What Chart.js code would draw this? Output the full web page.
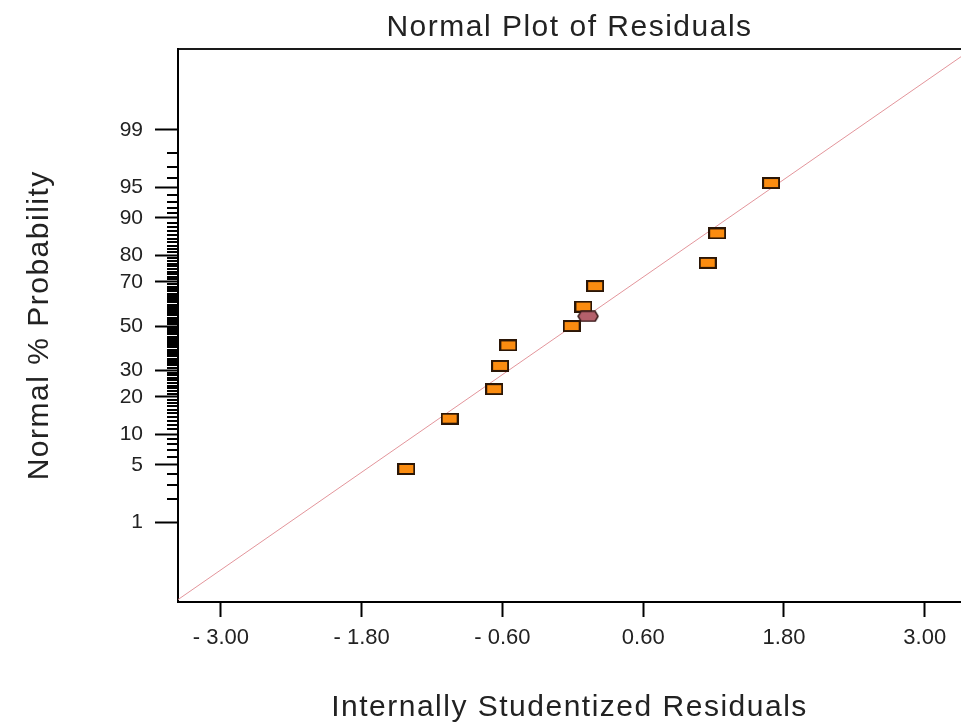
<!DOCTYPE html>
<html>
<head>
<meta charset="utf-8">
<title>Normal Plot of Residuals</title>
<script src="https://cdn.jsdelivr.net/npm/chart.js@4.4.1/dist/chart.umd.min.js"></script>
<style>
  html, body { margin: 0; padding: 0; background: #fff; }
  #wrap { width: 961px; height: 726px; }
</style>
</head>
<body>
<div id="wrap"><canvas id="residualChart" width="961" height="726"></canvas></div>
<script>
// --- RESIDUALS (x = studentized residual, prob = normal % probability) ---
const residualX = [-1.42, -1.05, -0.67, -0.62, -0.55, -0.01, 0.09, 0.19, 1.15, 1.23, 1.69];
const residualProb = [4.5, 13.6, 22.7, 31.8, 40.9, 50.0, 59.1, 68.2, 77.3, 86.4, 95.5];

// highlighted run
const selectedX = [0.13];
const selectedProb = [54.6];

// reference line end points
const fitLineX = [-3.37, 3.31];
const fitLineProb = [0.058, 99.93];

// axis ticks
const xTickValues = [-3.0, -1.8, -0.6, 0.6, 1.8, 3.0];
const xTickLabels = ['- 3.00', '- 1.80', '- 0.60', '0.60', '1.80', '3.00'];
const probTickValues = [1, 5, 10, 20, 30, 50, 70, 80, 90, 95, 99];
const probTickLabels = ['1', '5', '10', '20', '30', '50', '70', '80', '90', '95', '99'];

const FONT = '"Liberation Sans", Arial, sans-serif';

// inverse normal CDF (Acklam) -- maps a probability onto the probit axis
function probit(p) {
  const a = [-3.969683028665376e+01, 2.209460984245205e+02, -2.759285104469687e+02, 1.383577518672690e+02, -3.066479806614716e+01, 2.506628277459239e+00];
  const b = [-5.447609879822406e+01, 1.615858368580409e+02, -1.556989798598866e+02, 6.680131188771972e+01, -1.328068155288572e+01];
  const c = [-7.784894002430293e-03, -3.223964580411365e-01, -2.400758277161838e+00, -2.549732539343734e+00, 4.374664141464968e+00, 2.938163982698783e+00];
  const d = [7.784695709041462e-03, 3.224671290700398e-01, 2.445134137142996e+00, 3.754408661907416e+00];
  const pLow = 0.02425;
  let q, r;
  if (p < pLow) {
    q = Math.sqrt(-2 * Math.log(p));
    return (((((c[0] * q + c[1]) * q + c[2]) * q + c[3]) * q + c[4]) * q + c[5]) /
      ((((d[0] * q + d[1]) * q + d[2]) * q + d[3]) * q + 1);
  }
  if (p <= 1 - pLow) {
    q = p - 0.5;
    r = q * q;
    return (((((a[0] * r + a[1]) * r + a[2]) * r + a[3]) * r + a[4]) * r + a[5]) * q /
      (((((b[0] * r + b[1]) * r + b[2]) * r + b[3]) * r + b[4]) * r + 1);
  }
  q = Math.sqrt(-2 * Math.log(1 - p));
  return -(((((c[0] * q + c[1]) * q + c[2]) * q + c[3]) * q + c[4]) * q + c[5]) /
    ((((d[0] * q + d[1]) * q + d[2]) * q + d[3]) * q + 1);
}
const toZ = pct => probit(pct / 100);

// --- MARKER SPRITES ---
function makeBoxMarker(w, h, fill) {
  const cv = document.createElement('canvas');
  cv.width = w; cv.height = h;
  const g = cv.getContext('2d');
  g.fillStyle = '#2b1606';
  g.fillRect(0, 0, w, h);
  g.fillStyle = fill;
  g.fillRect(2, 2, w - 4, h - 4);
  return cv;
}

function makeHexMarker(w, h, fill) {
  const cv = document.createElement('canvas');
  cv.width = w; cv.height = h;
  const g = cv.getContext('2d');
  g.beginPath();
  g.moveTo(4, 1);
  g.lineTo(w - 4, 1);
  g.lineTo(w - 1, h / 2);
  g.lineTo(w - 4, h - 1);
  g.lineTo(4, h - 1);
  g.lineTo(1, h / 2);
  g.closePath();
  g.fillStyle = fill;
  g.fill();
  g.lineWidth = 1.5;
  g.strokeStyle = '#3a1c1c';
  g.stroke();
  return cv;
}

const boxMarker = makeBoxMarker(18, 12, '#fb8c10');
const hexMarker = makeHexMarker(22, 12, '#b4606b');

// --- PLUGINS ---
// titles are drawn a little wider than the tick labels
const textSpacing = {
  id: 'textSpacing',
  beforeDraw(chart) { chart.ctx.letterSpacing = '1.5px'; },
  beforeDatasetsDraw(chart) { chart.ctx.letterSpacing = '0px'; }
};

// short ticks at every whole percent on the probability axis
const minorTicks = {
  id: 'minorTicks',
  afterDraw(chart) {
    const yScale = chart.scales.y;
    const left = chart.chartArea.left;
    const ctx = chart.ctx;
    ctx.save();
    ctx.strokeStyle = '#000';
    ctx.lineWidth = 2;
    ctx.beginPath();
    for (let p = 1; p <= 99; p++) {
      if (probTickValues.includes(p)) continue;
      const py = Math.round(yScale.getPixelForValue(toZ(p)));
      ctx.moveTo(left - 11, py);
      ctx.lineTo(left, py);
    }
    ctx.stroke();
    ctx.restore();
  }
};

// plot box runs right up to the canvas edge
function noSidePadding(scale) {
  scale.paddingLeft = 0;
  scale.paddingRight = 0;
}

// --- CHART ---
const ctx = document.getElementById('residualChart').getContext('2d');

new Chart(ctx, {
  type: 'scatter',
  data: {
    datasets: [
      {
        label: 'Selected',
        data: selectedX.map((x, i) => ({ x: x, y: toZ(selectedProb[i]) })),
        pointStyle: hexMarker,
        pointRadius: 11
      },
      {
        label: 'Residuals',
        data: residualX.map((x, i) => ({ x: x, y: toZ(residualProb[i]) })),
        pointStyle: boxMarker,
        pointRadius: 9
      },
      {
        label: 'Normal line',
        data: fitLineX.map((x, i) => ({ x: x, y: toZ(fitLineProb[i]) })),
        showLine: true,
        borderColor: '#e3959b',
        borderWidth: 1,
        pointRadius: 0
      }
    ]
  },
  options: {
    responsive: false,
    devicePixelRatio: 1,
    animation: false,
    layout: { padding: 0, autoPadding: false },
    plugins: {
      legend: { display: false },
      tooltip: { enabled: false },
      title: {
        display: true,
        text: 'Normal Plot of Residuals',
        fullSize: false,
        color: '#222',
        font: { family: FONT, size: 30, weight: 'normal' },
        padding: { top: 10, bottom: 2.5 }
      }
    },
    scales: {
      x: {
        type: 'linear',
        position: 'bottom',
        min: -3.366,
        max: 3.309,
        afterBuildTicks: scale => { scale.ticks = xTickValues.map(v => ({ value: v })); },
        afterFit: scale => { scale.height = 124; noSidePadding(scale); },
        grid: { drawOnChartArea: false, tickLength: 15, tickWidth: 2, tickColor: '#000' },
        border: { color: '#000', width: 2 },
        ticks: {
          z: 1,
          autoSkip: false,
          maxRotation: 0,
          padding: 8,
          color: '#222',
          font: { family: FONT, size: 22 },
          callback: (value, index) => xTickLabels[index]
        },
        title: {
          display: true,
          text: 'Internally Studentized Residuals',
          color: '#222',
          font: { family: FONT, size: 30, weight: 'normal' },
          padding: { top: 0, bottom: 0 }
        }
      },
      xTop: {
        type: 'linear',
        position: 'top',
        afterFit: scale => { scale.height = 0; noSidePadding(scale); },
        grid: { display: false, drawTicks: false },
        border: { color: '#1a1a1a', width: 2 },
        ticks: { display: false }
      },
      y: {
        type: 'linear',
        position: 'left',
        min: -3.273,
        max: 3.291,
        afterBuildTicks: scale => { scale.ticks = probTickValues.map(p => ({ value: toZ(p) })); },
        afterFit: scale => { scale.width = 178; },
        grid: { drawOnChartArea: false, tickLength: 23, tickWidth: 2, tickColor: '#000' },
        border: { color: '#000', width: 2 },
        ticks: {
          z: 1,
          autoSkip: false,
          padding: 12,
          color: '#222',
          font: { family: FONT, size: 21 },
          callback: (value, index) => probTickLabels[index]
        },
        title: {
          display: true,
          text: 'Normal % Probability',
          color: '#222',
          font: { family: FONT, size: 30, weight: 'normal' },
          padding: { top: 22, bottom: 0 }
        }
      }
    }
  },
  plugins: [textSpacing, minorTicks]
});
</script>
</body>
</html>
